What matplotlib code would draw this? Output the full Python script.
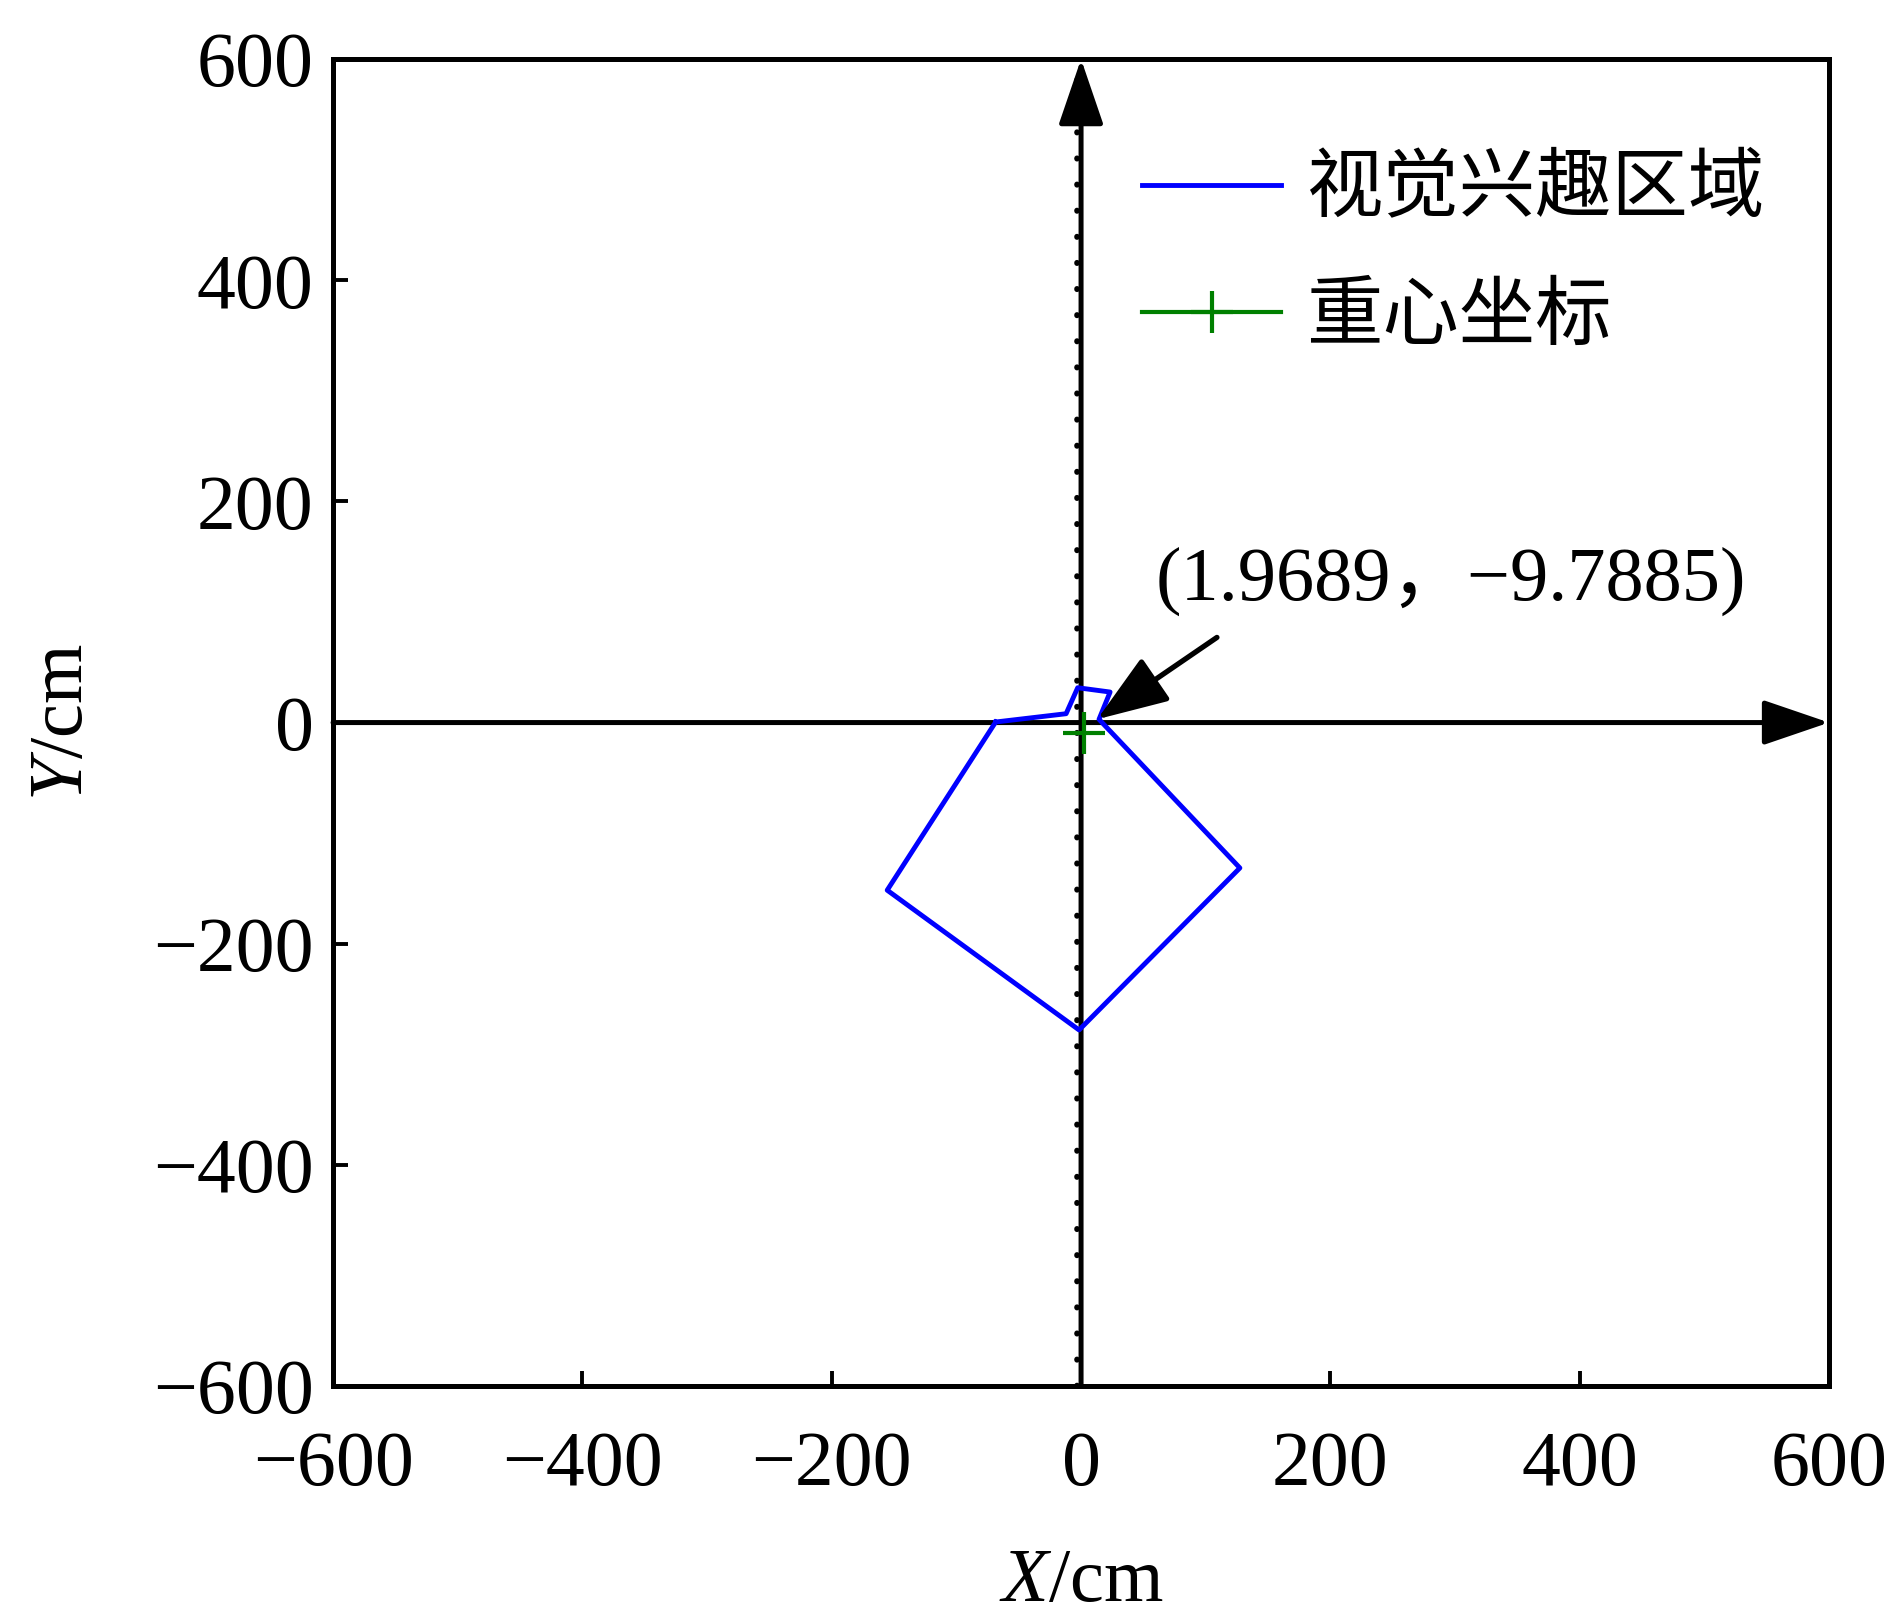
import matplotlib
matplotlib.use("Agg")
import matplotlib.pyplot as plt
from matplotlib.patches import ArrowStyle

plt.rcParams['font.family'] = ['Liberation Serif', 'Noto Sans CJK SC']
plt.rcParams['mathtext.fontset'] = 'custom'
plt.rcParams['mathtext.it'] = 'Liberation Serif:italic'
plt.rcParams['mathtext.rm'] = 'Liberation Serif'

# ---- data ----
roi_x = [-68.5, -12.0, -2.7, 23.3, 14.4, 127.4, -1.6, -155.5, -68.5]
roi_y = [0.5, 8.0, 31.5, 27.6, 2.9, -131.5, -278.0, -151.6, 0.5]
centroid_x = [1.9689]
centroid_y = [-9.7885]
dotted_x = [-3.0, -3.0]
dotted_y = [-600, 600]
ticks = [-600, -400, -200, 0, 200, 400, 600]
labels = ['视觉兴趣区域', '重心坐标']
annot_text = '(1.9689，−9.7885)'
arrow_tip = (13, 3)
arrow_tail = (109, 77)
annot_pos = (60, 128)

fig = plt.figure(figsize=(18.86, 16.23), dpi=100)
ax = fig.add_axes([0.1766, 0.146, 0.7932, 0.8176])

ax.plot(dotted_x, dotted_y, color='black', lw=4.0, linestyle=(0, (0.1, 4.6)),
        dash_capstyle='round', zorder=2)

head = ArrowStyle('-|>', head_length=41, head_width=14)
ax.annotate('', xy=(600, 0), xytext=(-600, 0),
            arrowprops=dict(arrowstyle=head, mutation_scale=1, lw=3.6,
                            color='black', shrinkA=0, shrinkB=0), zorder=3)
ax.annotate('', xy=(0, 600), xytext=(0, -600),
            arrowprops=dict(arrowstyle=head, mutation_scale=1, lw=3.6,
                            color='black', shrinkA=0, shrinkB=0), zorder=3)

l1, = ax.plot(roi_x, roi_y, color='#0000ff', lw=3.5, zorder=4, label=labels[0])
l2, = ax.plot(centroid_x, centroid_y, color='#008000', marker='+', markersize=30,
              markeredgewidth=3.0, linestyle='-', lw=3.0, zorder=5, label=labels[1])

head2 = ArrowStyle('-|>', head_length=44, head_width=16)
ax.annotate('', xy=arrow_tip, xytext=arrow_tail,
            arrowprops=dict(arrowstyle=head2, mutation_scale=1, lw=3.8,
                            color='black', shrinkA=0, shrinkB=0), zorder=6)
ax.text(annot_pos[0], annot_pos[1], annot_text, fontsize=55, ha='left', va='center',
        family=['Liberation Serif', 'Noto Sans CJK SC'])

ax.set_xlim(-600, 600)
ax.set_ylim(-600, 600)
ax.set_xticks(ticks)
ax.set_yticks(ticks)
ax.tick_params(direction='in', length=11, width=2.8, labelsize=56,
               top=False, right=False)
ax.tick_params(axis='x', pad=32)
ax.tick_params(axis='y', pad=14)
for s in ax.spines.values():
    s.set_linewidth(3.6)

ax.set_xlabel(r'$X$/cm', fontsize=55)
ax.set_ylabel(r'$Y$/cm', fontsize=55)
ax.xaxis.set_label_coords(0.5, -0.122)
ax.yaxis.set_label_coords(-0.157, 0.5)

leg = ax.legend(handles=[l1, l2], loc='upper left', bbox_to_anchor=(1104/1886, 1 - 112/1623),
                bbox_transform=fig.transFigure, frameon=False,
                handlelength=1.82, handletextpad=0.32, borderpad=0, labelspacing=0.62,
                prop={'family': 'Noto Sans CJK SC', 'size': 55})

fig.savefig('out.png', dpi=100)
